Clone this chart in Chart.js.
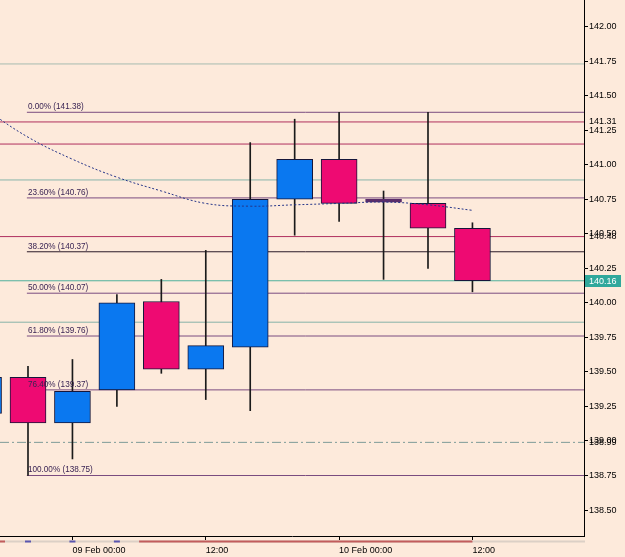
<!DOCTYPE html>
<html>
<head>
<meta charset="utf-8">
<script src="https://cdn.jsdelivr.net/npm/chart.js@4.4.1/dist/chart.umd.min.js"></script>
<style>
  html, body { margin: 0; padding: 0; background: #fdeadb; }
  canvas { display: block; }
</style>
</head>
<body>
<canvas id="myChart" width="625" height="557"></canvas>
<script>
// 4h candles, x = hours from 09 Feb 00:00
var candleHours = [-8, -4, 0, 4, 8, 12, 16, 20, 24, 28, 32, 36];
var opens  = [139.20, 139.46, 139.13, 139.37, 140.01, 139.52, 139.68, 140.75, 141.04, 140.73, 140.72, 140.54];
var highs  = [139.55, 139.54, 139.59, 140.06, 140.17, 140.38, 141.16, 141.33, 141.38, 140.81, 141.38, 140.58];
var lows   = [139.10, 138.75, 138.87, 139.25, 139.49, 139.30, 139.22, 140.49, 140.59, 140.17, 140.25, 140.08];
var closes = [139.46, 139.13, 139.36, 140.00, 139.52, 139.69, 140.75, 141.04, 140.72, 140.73, 140.54, 140.16];
var maValues = [141.41, 141.20, 141.04, 140.91, 140.81, 140.72, 140.70, 140.71, 140.72, 140.73, 140.71, 140.67];

var fibPct    = ['0.00%', '23.60%', '38.20%', '50.00%', '61.80%', '76.40%', '100.00%'];
var fibPrices = [141.38, 140.76, 140.37, 140.07, 139.76, 139.37, 138.75];
var crimsonLevels = [141.31, 141.15, 140.48];
var tealLevels = [141.73, 140.89, 140.16, 139.86];
var dashDotLevel = 138.99;

var xTickHours = [0, 12, 24, 36];
var xTickLabels = ['09 Feb 00:00', '12:00', '10 Feb 00:00', '12:00'];
var yTickValues = [138.50, 138.75, 139.00, 139.25, 139.50, 139.75, 140.00, 140.25, 140.50, 140.75, 141.00, 141.25, 141.50, 141.75, 142.00];
var yExtraTicks = [141.31, 140.48, 138.99];

var xMin = -6.52, xMax = 46.04, fibStart = -4.1;
var FONT = "'Liberation Sans Narrow', 'Liberation Sans', Arial, sans-serif";
var BLUE = '#0a78f0', PINK = '#ee0a72';
var tealColors = ['#a6bcb0', '#88b4aa', '#4fb09c', '#86b2a8'];

function hline(y, from, color, order, dash) {
  return {
    type: 'line',
    data: [{x: from, y: y}, {x: xMax, y: y}],
    borderColor: color, borderWidth: 1, borderDash: dash || [],
    pointRadius: 0, order: order
  };
}

var datasets = [];
tealLevels.forEach(function (v, i) { datasets.push(hline(v, xMin, tealColors[i], 5)); });
crimsonLevels.forEach(function (v) { datasets.push(hline(v, xMin, '#b0305e', 5)); });
datasets.push(hline(dashDotLevel, xMin, '#7e9c98', 5, [9, 3, 2, 3]));
fibPrices.forEach(function (v, i) { datasets.push(hline(v, fibStart, i === 2 ? '#2a1a28' : '#7a4c80', 4)); });

datasets.push({
  type: 'bar', grouped: false, order: 2,
  data: candleHours.map(function (h, i) { return {x: h, y: [lows[i], highs[i]]}; }),
  backgroundColor: '#1a1a1a', barThickness: 1, borderWidth: 0
});
datasets.push({
  type: 'bar', grouped: false, order: 1,
  data: candleHours.map(function (h, i) { return {x: h, y: [opens[i], closes[i]]}; }),
  backgroundColor: candleHours.map(function (h, i) {
    return closes[i] === opens[i] ? '#5a2d6a' : (closes[i] > opens[i] ? BLUE : PINK);
  }),
  borderColor: candleHours.map(function (h, i) { return closes[i] === opens[i] ? '#5a2d6a' : '#16163a'; }),
  borderWidth: 1, borderSkipped: false, barThickness: 36, minBarLength: 3
});
datasets.push({
  type: 'line', order: 0,
  data: candleHours.map(function (h, i) { return {x: h, y: maValues[i]}; }),
  borderColor: '#243488', borderWidth: 1, borderDash: [2, 2],
  pointRadius: 0, tension: 0.4
});

var overlay = {
  id: 'overlay',
  afterDatasetsDraw: function (chart) {
    var ctx = chart.ctx, y = chart.scales.y, x = chart.scales.x;
    var sx = 0.86;
    ctx.save();
    ctx.font = '9.5px ' + FONT;
    ctx.fillStyle = '#3a2454';
    ctx.textBaseline = 'bottom';
    ctx.textAlign = 'left';
    ctx.scale(sx, 1);
    fibPrices.forEach(function (v, i) {
      ctx.fillText(fibPct[i] + ' (' + v.toFixed(2) + ')', (x.getPixelForValue(fibStart) + 1) / sx, y.getPixelForValue(v) - 1);
    });
    ctx.restore();
  },
  afterDraw: function (chart) {
    var ctx = chart.ctx, y = chart.scales.y, x = chart.scales.x, a = chart.chartArea;
    ctx.save();
    // current price box
    var last = closes[closes.length - 1];
    var py = Math.round(y.getPixelForValue(last));
    ctx.fillStyle = '#2fa89c';
    ctx.fillRect(a.right + 1, py - 6, 36, 12);
    ctx.fillStyle = '#ffffff';
    ctx.font = '9px ' + FONT;
    ctx.textBaseline = 'middle';
    ctx.fillText(last.toFixed(2), a.right + 5, py + 0.5);
    // session strip under the axis
    var sy = a.bottom + 5.5;
    ctx.lineWidth = 2;
    ctx.strokeStyle = '#dcd0c6';
    ctx.beginPath(); ctx.moveTo(0, sy); ctx.lineTo(a.right + 1, sy); ctx.stroke();
    ctx.strokeStyle = '#c25c5c';
    ctx.beginPath(); ctx.moveTo(0, sy); ctx.lineTo(5, sy); ctx.stroke();
    ctx.beginPath(); ctx.moveTo(x.getPixelForValue(6), sy); ctx.lineTo(x.getPixelForValue(36), sy); ctx.stroke();
    ctx.strokeStyle = '#5a56b0';
    [-4, 0, 4].forEach(function (h) {
      var px = x.getPixelForValue(h);
      ctx.beginPath(); ctx.moveTo(px - 3, sy); ctx.lineTo(px + 3, sy); ctx.stroke();
    });
    ctx.restore();
  }
};

var ctx = document.getElementById('myChart').getContext('2d');
var myChart = new Chart(ctx, {
  type: 'bar',
  data: { datasets: datasets },
  plugins: [overlay],
  options: {
    responsive: false,
    animation: false,
    layout: { padding: 0 },
    plugins: { legend: { display: false }, tooltip: { enabled: false } },
    scales: {
      x: {
        type: 'linear', min: xMin, max: xMax, offset: false,
        afterBuildTicks: function (s) { s.ticks = xTickHours.map(function (v) { return {value: v}; }); },
        afterFit: function (s) { s.height = 21; s.paddingLeft = 0; s.paddingRight = 0; },
        ticks: {
          autoSkip: false, maxRotation: 0, align: 'start', padding: 5,
          color: '#000', font: { size: 9, family: FONT },
          callback: function (v) { return xTickLabels[xTickHours.indexOf(v)]; }
        },
        grid: { offset: false, drawOnChartArea: false, tickLength: 4, color: '#000' },
        border: { color: '#000', width: 1 }
      },
      y: {
        position: 'right', min: 138.312, max: 142.193,
        afterBuildTicks: function (s) {
          s.ticks = yTickValues.concat(yExtraTicks).map(function (v) { return {value: v}; });
        },
        afterFit: function (s) { s.width = 41; s.paddingTop = 0; s.paddingBottom = 0; },
        ticks: {
          autoSkip: false, padding: 1, color: '#000',
          font: { size: 9, family: FONT },
          callback: function (v) { return v.toFixed(2); }
        },
        grid: {
          drawOnChartArea: false, tickLength: 4,
          color: function (c) { return c.tick && yExtraTicks.indexOf(c.tick.value) >= 0 ? 'rgba(0,0,0,0)' : '#000'; }
        },
        border: { color: '#000', width: 1 }
      }
    }
  }
});
</script>
</body>
</html>
